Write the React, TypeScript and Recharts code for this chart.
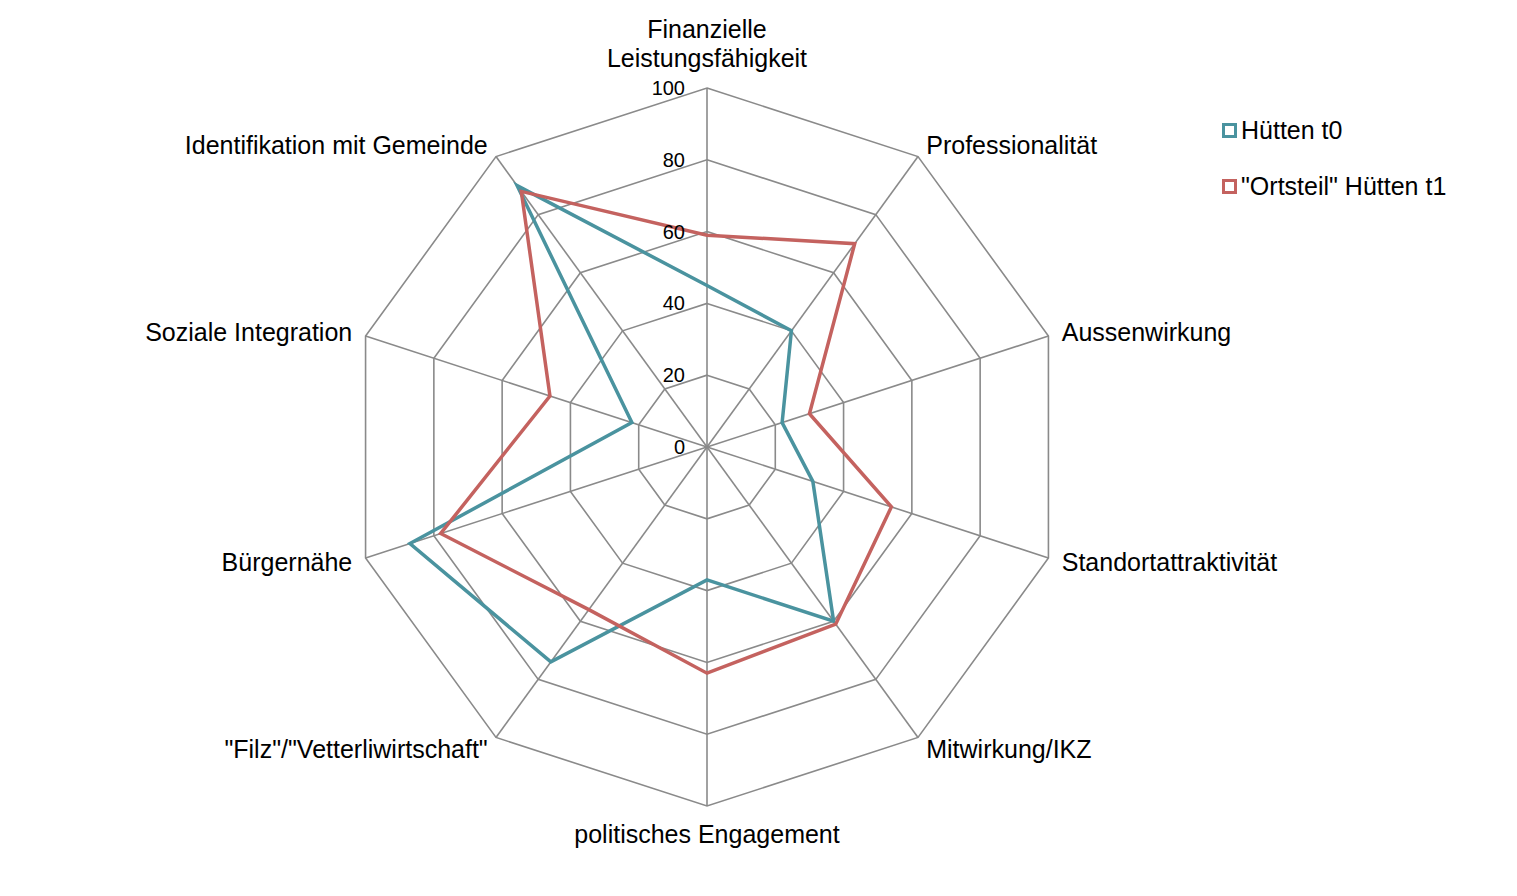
import { RadarChart, Radar, PolarGrid, PolarAngleAxis, PolarRadiusAxis, Legend } from "recharts";

const categories = [
  "Finanzielle Leistungsfähigkeit",
  "Professionalität",
  "Aussenwirkung",
  "Standortattraktivität",
  "Mitwirkung/IKZ",
  "politisches Engagement",
  "\"Filz\"/\"Vetterliwirtschaft\"",
  "Bürgernähe",
  "Soziale Integration",
  "Identifikation mit Gemeinde",
];

const seriesNames = ["Hütten t0", "\"Ortsteil\" Hütten t1"];
const huettenT0 = [45, 40, 22, 31, 60, 37, 74, 87, 22, 90];
const huettenT1 = [59, 70, 30, 54, 61, 63, 56, 78, 46, 88];

const radiusTicks = [0, 20, 40, 60, 80, 100];

const TEAL = "#4a939f";
const RED = "#c4625f";
const GRID = "#8a8a8a";
const FONT = "'Liberation Sans', Arial, sans-serif";

const data = categories.map((name, i) => ({
  name,
  t0: huettenT0[i],
  t1: huettenT1[i],
}));

function AngleTick(props: any) {
  const { x, y, payload } = props;
  const angle = (payload.coordinate * Math.PI) / 180;
  const cos = Math.cos(angle);
  const sin = Math.sin(angle);
  const label: string = payload.value;

  if (sin > 0.99) {
    // top label on two lines
    const words = label.split(" ");
    return (
      <text x={x} textAnchor="middle" fontFamily={FONT} fontSize={25} fill="#000">
        <tspan x={x} y={y - 51} dominantBaseline="central">{words[0]}</tspan>
        <tspan x={x} y={y - 22} dominantBaseline="central">{words.slice(1).join(" ")}</tspan>
      </text>
    );
  }
  if (sin < -0.99) {
    return (
      <text x={x} y={y + 20} textAnchor="middle" dominantBaseline="central" fontFamily={FONT} fontSize={25} fill="#000">
        {label}
      </text>
    );
  }
  const anchor = cos > 0 ? "start" : "end";
  return (
    <text
      x={x + cos * 6}
      y={y - sin * 6}
      textAnchor={anchor}
      dominantBaseline="central"
      fontFamily={FONT}
      fontSize={25}
      fill="#000"
    >
      {label}
    </text>
  );
}

function RadiusTick(props: any) {
  const { x, y, payload } = props;
  return (
    <text x={x - 22} y={y} textAnchor="end" dominantBaseline="central" fontFamily={FONT} fontSize={20} fill="#000">
      {payload.value}
    </text>
  );
}

function LegendContent(props: any) {
  const items = [...(props.payload || [])].sort(
    (a: any, b: any) => seriesNames.indexOf(a.value) - seriesNames.indexOf(b.value)
  );
  return (
    <div style={{ fontFamily: FONT, fontSize: 25, color: "#000" }}>
      {items.map((item: any) => (
        <div key={item.value} style={{ display: "flex", alignItems: "center", height: 56 }}>
          <span
            style={{
              display: "inline-block",
              width: 9,
              height: 9,
              border: `3px solid ${item.color}`,
              marginRight: 4,
            }}
          />
          <span>{item.value}</span>
        </div>
      ))}
    </div>
  );
}

export default function App() {
  return (
    <div style={{ width: 1501, height: 880, fontFamily: FONT }}>
      <RadarChart width={1501} height={880} data={data} cx={699} cy={439} outerRadius={359}>
        <PolarGrid gridType="polygon" stroke={GRID} strokeWidth={1.6} strokeOpacity={1} />
        <PolarAngleAxis dataKey="name" tick={<AngleTick />} tickLine={false} axisLine={false} />
        <PolarRadiusAxis
          angle={90}
          domain={[0, 100]}
          ticks={radiusTicks}
          tickCount={6}
          tick={<RadiusTick />}
          axisLine={false}
          tickLine={false}
        />
        <Radar
          name={seriesNames[0]}
          dataKey="t0"
          stroke={TEAL}
          strokeWidth={3.5}
          fill="none"
          fillOpacity={0}
          dot={false}
          isAnimationActive={false}
        />
        <Radar
          name={seriesNames[1]}
          dataKey="t1"
          stroke={RED}
          strokeWidth={3.5}
          fill="none"
          fillOpacity={0}
          dot={false}
          isAnimationActive={false}
        />
        <Legend
          content={<LegendContent />}
          wrapperStyle={{ position: "absolute", top: 94, left: 1214, width: 300 }}
        />
      </RadarChart>
    </div>
  );
}
